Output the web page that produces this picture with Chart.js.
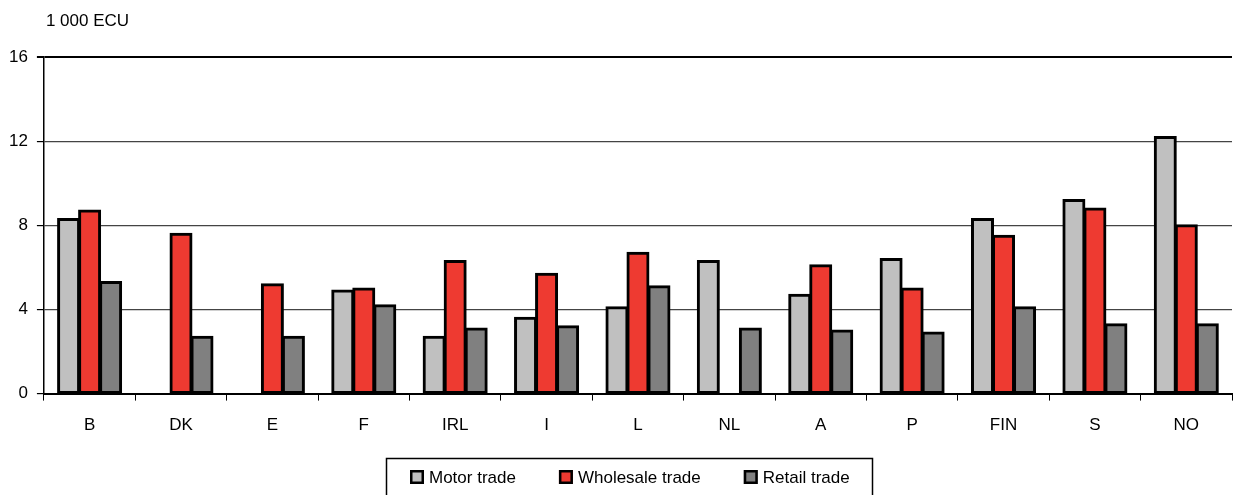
<!DOCTYPE html>
<html>
<head>
<meta charset="utf-8">
<script src="https://cdn.jsdelivr.net/npm/chart.js@4/dist/chart.umd.min.js"></script>
<style>
    html, body { margin: 0; padding: 0; background: #fff; }
    #wrap { width: 1235px; height: 495px; position: relative; }
</style>
</head>
<body>
<div id="wrap"><canvas id="chart" width="1235" height="495"></canvas></div>
<script>
const countries = ['B', 'DK', 'E', 'F', 'IRL', 'I', 'L', 'NL', 'A', 'P', 'FIN', 'S', 'NO'];
const motorTrade = [8.3, null, null, 4.9, 2.7, 3.6, 4.1, 6.3, 4.7, 6.4, 8.3, 9.2, 12.2];
const wholesaleTrade = [8.7, 7.6, 5.2, 5.0, 6.3, 5.7, 6.7, null, 6.1, 5.0, 7.5, 8.8, 8.0];
const retailTrade = [5.3, 2.7, 2.7, 4.2, 3.1, 3.2, 5.1, 3.1, 3.0, 2.9, 4.1, 3.3, 3.3];
const yTicks = [0, 4, 8, 12, 16];
const unitLabel = '1 000 ECU';

const FONT = "'Liberation Sans', Arial, sans-serif";
const FONT_SIZE = 17;

// unit text above the value axis + framed legend under the category labels
const extras = {
    id: 'extras',
    afterDraw(chart) {
        const ctx = chart.ctx;
        const area = chart.chartArea;
        ctx.save();
        ctx.font = `${FONT_SIZE}px ${FONT}`;
        ctx.fillStyle = '#000';
        ctx.textBaseline = 'middle';
        ctx.textAlign = 'left';
        ctx.fillText(unitLabel, area.left + 2, 21);

        // legend
        const box = 14, gap = 5, spacing = 43;
        const items = chart.data.datasets.map(ds => ({
            text: ds.label,
            color: ds.backgroundColor,
            w: box + gap + ctx.measureText(ds.label).width
        }));
        let x = 410;
        const cy = 477;
        ctx.strokeStyle = '#000';
        ctx.lineWidth = 1.5;
        ctx.strokeRect(386.5, 458.5, 486, 60);
        items.forEach(it => {
            ctx.fillStyle = it.color;
            ctx.fillRect(x, cy - box / 2, box, box);
            ctx.lineWidth = 2.5;
            ctx.strokeRect(x + 1.25, cy - box / 2 + 1.25, box - 2.5, box - 2.5);
            ctx.fillStyle = '#000';
            ctx.fillText(it.text, x + box + gap, cy + 1);
            x += it.w + spacing;
        });
        ctx.restore();
    }
};

new Chart(document.getElementById('chart'), {
    type: 'bar',
    data: {
        labels: countries,
        datasets: [
            { label: 'Motor trade', data: motorTrade, backgroundColor: '#c0c0c0' },
            { label: 'Wholesale trade', data: wholesaleTrade, backgroundColor: '#ee3a31' },
            { label: 'Retail trade', data: retailTrade, backgroundColor: '#808080' }
        ].map(ds => Object.assign(ds, {
            borderColor: '#000',
            borderWidth: 3,
            borderSkipped: false,
            inflateAmount: 1,
            categoryPercentage: 0.69,
            barPercentage: 1.0
        }))
    },
    options: {
        responsive: false,
        animation: false,
        layout: { padding: { top: 57, right: 3, bottom: 44, left: 0 } },
        plugins: {
            legend: { display: false },
            tooltip: { enabled: false }
        },
        scales: {
            x: {
                grid: {
                    offset: true,
                    drawOnChartArea: false,
                    drawTicks: true,
                    tickLength: 7,
                    color: '#000',
                    lineWidth: 1
                },
                border: { color: '#000', width: 2 },
                ticks: {
                    color: '#000',
                    padding: 15,
                    font: { family: FONT, size: FONT_SIZE }
                }
            },
            y: {
                min: 0,
                max: 16,
                afterBuildTicks(axis) {
                    axis.ticks = yTicks.map(v => ({ value: v }));
                },
                grid: {
                    color: ctx => ctx.tick && ctx.tick.value === 16 ? '#000' : '#444',
                    lineWidth: ctx => ctx.tick && ctx.tick.value === 16 ? 2 : 1.2,
                    tickLength: 7,
                    tickColor: '#000'
                },
                border: { color: '#000', width: 1.5 },
                ticks: {
                    color: '#000',
                    padding: 9,
                    font: { family: FONT, size: FONT_SIZE }
                }
            }
        }
    },
    plugins: [extras]
});
</script>
</body>
</html>
